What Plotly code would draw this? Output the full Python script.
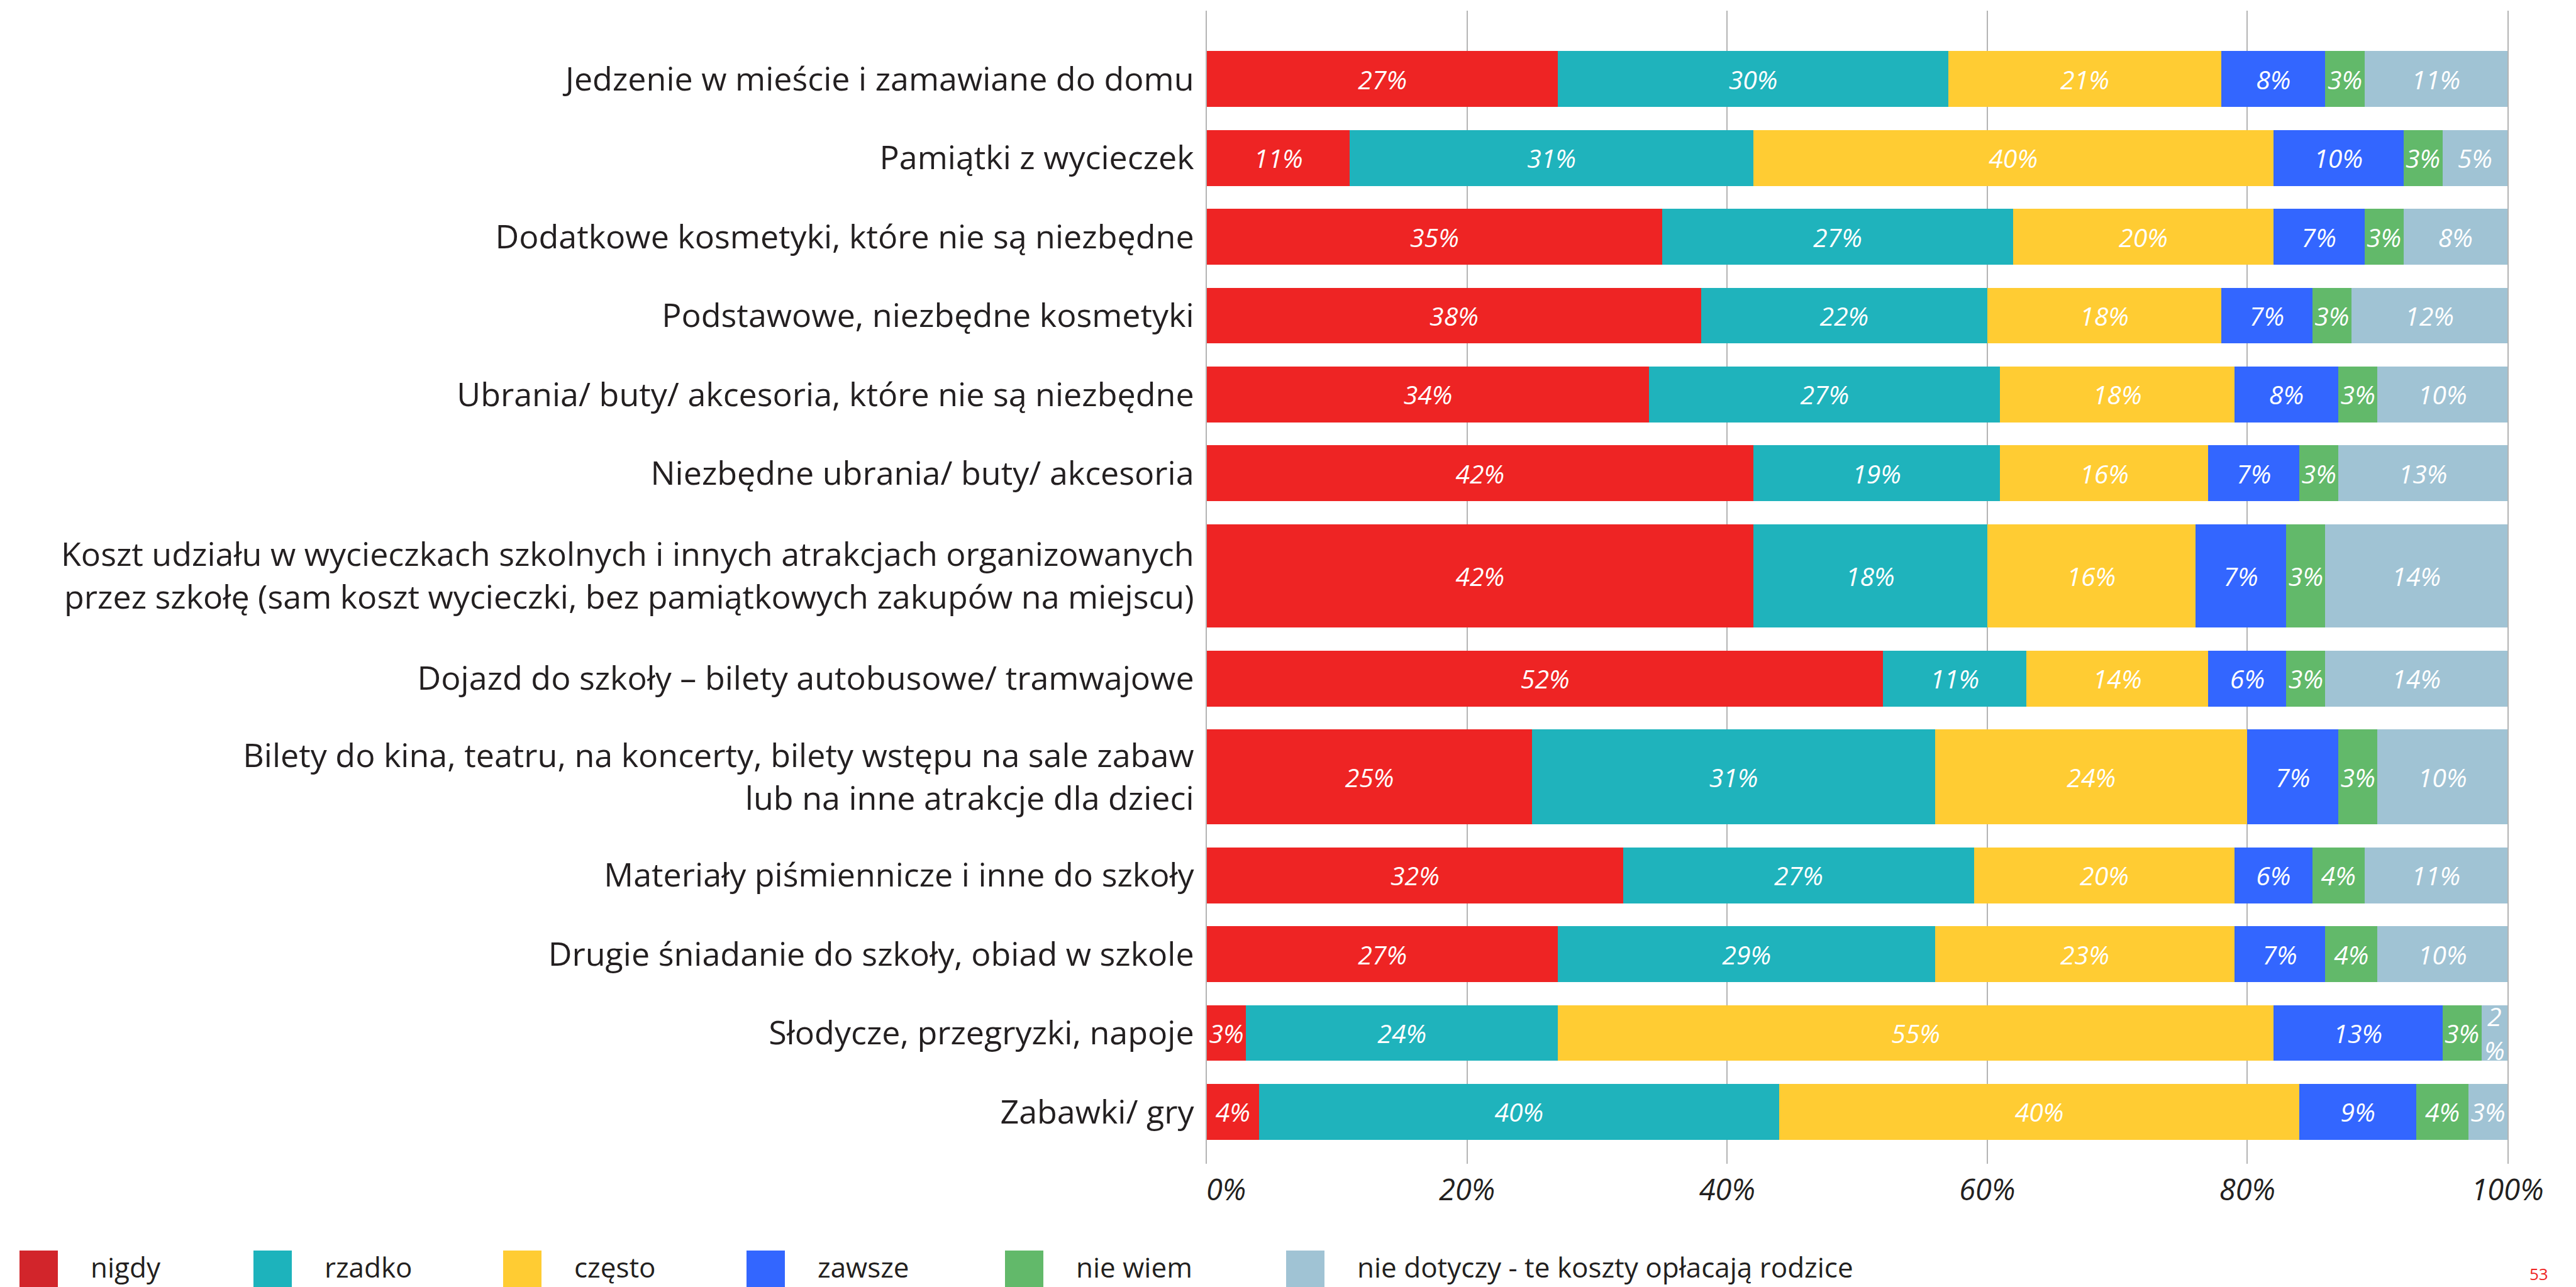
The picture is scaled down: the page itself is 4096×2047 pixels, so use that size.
import plotly.graph_objects as go

# ---------------------------------------------------------------- data
categories = [
    "Jedzenie w mieście i zamawiane do domu",
    "Pamiątki z wycieczek",
    "Dodatkowe kosmetyki, które nie są niezbędne",
    "Podstawowe, niezbędne kosmetyki",
    "Ubrania/ buty/ akcesoria, które nie są niezbędne",
    "Niezbędne ubrania/ buty/ akcesoria",
    "Koszt udziału w wycieczkach szkolnych i innych atrakcjach organizowanych<br>"
    "przez szkołę (sam koszt wycieczki, bez pamiątkowych zakupów na miejscu)",
    "Dojazd do szkoły – bilety autobusowe/ tramwajowe",
    "Bilety do kina, teatru, na koncerty, bilety wstępu na sale zabaw<br>"
    "lub na inne atrakcje dla dzieci",
    "Materiały piśmiennicze i inne do szkoły",
    "Drugie śniadanie do szkoły, obiad w szkole",
    "Słodycze, przegryzki, napoje",
    "Zabawki/ gry",
]

series_names = ["nigdy", "rzadko", "często", "zawsze", "nie wiem",
                "nie dotyczy - te koszty opłacają rodzice"]

nigdy       = [27, 11, 35, 38, 34, 42, 42, 52, 25, 32, 27, 3, 4]
rzadko      = [30, 31, 27, 22, 27, 19, 18, 11, 31, 27, 29, 24, 40]
czesto      = [21, 40, 20, 18, 18, 16, 16, 14, 24, 20, 23, 55, 40]
zawsze      = [8, 10, 7, 7, 8, 7, 7, 6, 7, 6, 7, 13, 9]
nie_wiem    = [3, 3, 3, 3, 3, 3, 3, 3, 3, 4, 4, 3, 4]
nie_dotyczy = [11, 5, 8, 12, 10, 13, 14, 14, 10, 11, 10, 2, 3]

series_values = [nigdy, rzadko, czesto, zawsze, nie_wiem, nie_dotyczy]

x_tick_values = [0, 20, 40, 60, 80, 100]

page_number = "53"

# ---------------------------------------------------------------- style
FONT = "Open Sans"
TEXT_DARK = "#231F20"
GRID = "#B4B4B4"

bar_colors = ["#EE2424", "#1FB3BC", "#FFCC33", "#3366FF", "#62B96A", "#A0C3D4"]
swatch_colors = ["#D2252B", "#1DB3BC", "#FFCC33", "#3366FF", "#62B96A", "#A0C3D4"]

# relative thickness of each bar (two-line rows are taller)
row_thickness = [1, 1, 1, 1, 1, 1, 1.85, 1, 1.70, 1, 1, 1, 1]
ROW_GAP = 0.411
TOP_PAD = 0.724
BOTTOM_PAD = 0.43

W, H = 4096, 2047
M_L, M_R, M_T, M_B = 1919, 109, 17, 196
PLOT_W = W - M_L - M_R
PLOT_H = H - M_T - M_B

# legend layout (pixels)
swatch_left = [31, 403, 800, 1187, 1598, 2045]
SWATCH_W = 61
SWATCH_TOP = 1989
LEGEND_TEXT_DX = 111
LEGEND_TEXT_Y = 2015


def px_x(px):
    return (px - M_L) / PLOT_W


def px_y(py):
    return (M_T + PLOT_H - py) / PLOT_H


# ---------------------------------------------------------------- row positions
centers = []
pos = TOP_PAD
for t in row_thickness:
    centers.append(pos + t / 2)
    pos += t + ROW_GAP
y_end = pos - ROW_GAP + BOTTOM_PAD


def label_for(v):
    # very narrow segments get the percent sign on a second line
    return f"{v}<br>%" if v <= 2 else f"{v}%"


fig = go.Figure()
for name, vals, color in zip(series_names, series_values, bar_colors):
    fig.add_trace(go.Bar(
        name=name,
        x=vals,
        y=centers,
        width=row_thickness,
        orientation="h",
        marker=dict(color=color, line=dict(width=0)),
        text=[label_for(v) for v in vals],
        textposition="inside",
        insidetextanchor="middle",
        textangle=0,
        constraintext="none",
        textfont=dict(family=FONT, size=41, color="white", style="italic"),
        hoverinfo="skip",
        showlegend=False,
    ))

# x tick labels; the first one starts at the axis instead of centring on it
x_tick_text = [f"{v}%" for v in x_tick_values]
x_tick_text[0] = "\u00a0" * 5 + x_tick_text[0]

fig.update_layout(
    width=W, height=H, autosize=False,
    margin=dict(l=M_L, r=M_R, t=M_T, b=M_B, pad=0),
    barmode="stack",
    paper_bgcolor="white", plot_bgcolor="white",
    font=dict(family=FONT, color=TEXT_DARK),
    xaxis=dict(
        range=[0, 100],
        tickvals=x_tick_values,
        ticktext=x_tick_text,
        tickfont=dict(family=FONT, size=47, color=TEXT_DARK, style="italic"),
        showgrid=True, gridcolor=GRID, gridwidth=2,
        zeroline=False, showline=False, ticks="",
        ticklabelstandoff=10,
        fixedrange=True,
    ),
    yaxis=dict(
        range=[y_end, 0],
        tickvals=centers,
        ticktext=categories,
        tickfont=dict(family=FONT, size=52, color=TEXT_DARK),
        showgrid=False, zeroline=False,
        showline=True, linecolor=GRID, linewidth=2, mirror=True,
        ticks="",
        ticklabelstandoff=8,
        fixedrange=True,
    ),
)

# legend: coloured swatches with their series names
shapes = []
annotations = []
for name, color, left in zip(series_names, swatch_colors, swatch_left):
    shapes.append(dict(
        type="rect", xref="paper", yref="paper",
        x0=px_x(left), x1=px_x(left + SWATCH_W),
        y0=px_y(SWATCH_TOP + SWATCH_W + 20), y1=px_y(SWATCH_TOP),
        fillcolor=color, line=dict(width=0), layer="above",
    ))
    annotations.append(dict(
        text=name, xref="paper", yref="paper",
        x=px_x(left + LEGEND_TEXT_DX), y=px_y(LEGEND_TEXT_Y),
        xanchor="left", yanchor="middle", showarrow=False,
        font=dict(family=FONT, size=44, color=TEXT_DARK),
    ))

# page number in the bottom-right corner
annotations.append(dict(
    text=page_number, xref="paper", yref="paper",
    x=px_x(4020), y=px_y(2046), xanchor="left", yanchor="bottom",
    showarrow=False, font=dict(family=FONT, size=26, color="#EE2424"),
))

fig.update_layout(shapes=shapes, annotations=annotations)

fig.write_html("out.html")
